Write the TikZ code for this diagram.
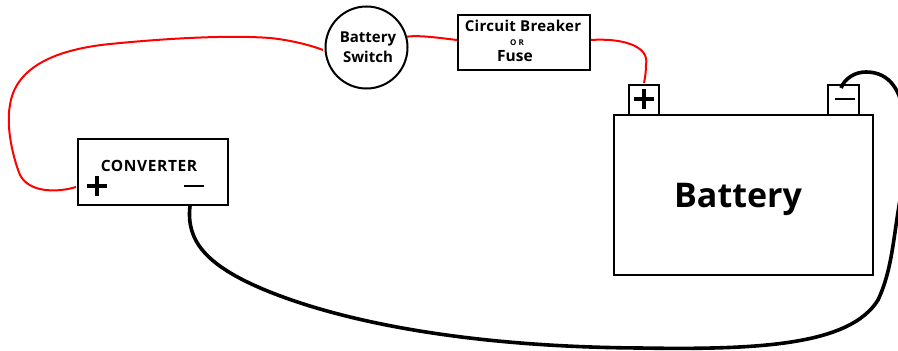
\documentclass[tikz,border=0pt]{standalone}
\usepackage{fontspec}
\setmainfont{Open Sans}
\newfontfamily\spacedfont[LetterSpace=4,BoldFont={Open Sans Bold}]{Open Sans}
\newfontfamily\tightfont[LetterSpace=2,BoldFont={Open Sans Bold}]{Open Sans}
\tikzset{
  boxnode/.style={draw=black, line width=2pt, inner sep=0pt, anchor=north west},
  redwire/.style={red, line width=2pt},
  blackwire/.style={black, line width=3.6pt},
  boldtext/.style={font=\bfseries, inner sep=0pt, align=center}
}
\begin{document}
\begin{tikzpicture}[x=1pt, y=-1pt]
    \clip (0,0) rectangle (898,351);

    \node[boxnode, minimum width=150pt, minimum height=66pt] (converter) at (77,138) {};
    \node[boxnode, minimum width=132pt, minimum height=55pt] (breaker) at (457,14) {};
    \node[boxnode, minimum width=259pt, minimum height=160pt] (battery) at (613,114) {};
    \node[boxnode, minimum width=30pt, minimum height=30pt] (plusterm) at (628,84) {};
    \node[boxnode, minimum width=31pt, minimum height=30pt] (minusterm) at (827,84) {};
    \node[draw=black, line width=2pt, circle, minimum size=82pt, inner sep=0pt] (switch) at (366.5,47.5) {};

    \node[boldtext, font=\bfseries\fontsize{15}{20}\selectfont] (switchtext) at (368,47) {Battery\\Switch};
    \node[boldtext, font=\tightfont\bfseries\fontsize{15}{15}\selectfont] (breakertext) at (523,26) {Circuit Breaker};
    \node[boldtext, font=\bfseries\fontsize{8}{8}\selectfont] (ortext) at (517,43) {O R};
    \node[boldtext, font=\bfseries\fontsize{15.5}{15.5}\selectfont] (fusetext) at (515,56) {Fuse};
    \node[boldtext, font=\spacedfont\bfseries\fontsize{15.5}{15.5}\selectfont] (convtext) at (149,166) {CONVERTER};
    \node[boldtext, font=\bfseries\fontsize{34}{34}\selectfont] (battext) at (738,199) {Battery};

    % plus and minus signs
    \coordinate (convplus) at (97,186);
    \coordinate (convminus) at (194,186);
    \coordinate (termplus) at (644,99);
    \coordinate (termminus) at (845,99);
    \draw[line width=3.6pt] ([xshift=-10pt]convplus) -- ([xshift=10pt]convplus);
    \draw[line width=3.6pt] ([yshift=-10pt]convplus) -- ([yshift=10pt]convplus);
    \draw[line width=1.8pt] ([xshift=-10pt]convminus) -- ([xshift=10pt]convminus);
    \draw[line width=3.6pt] ([xshift=-10pt]termplus) -- ([xshift=10pt]termplus);
    \draw[line width=3.6pt] ([yshift=-10pt]termplus) -- ([yshift=10pt]termplus);
    \draw[line width=1.8pt] ([xshift=-10pt]termminus) -- ([xshift=10pt]termminus);

    % red wires
    \coordinate (convred) at (76,187);
    \coordinate (switchleft) at (323,50);
    \coordinate (plustop) at (644,83);
    \draw[redwire] (convred) .. controls (60,192) and (30,194) .. (20,175)
        .. controls (12,155) and (6,125) .. (10,105)
        .. controls (15,70) and (50,50) .. (110,44)
        .. controls (170,38) and (230,35) .. (270,38)
        .. controls (290,40) and (310,45) .. (switchleft);
    \draw[redwire] (switch.15) .. controls (420,35) and (440,38) .. (breaker.west |- 0,40);
    \draw[redwire] (breaker.east |- 0,40) .. controls (620,38) and (650,45) .. (646,65)
        .. controls (646,72) and (645,78) .. (plustop);

    % black wire
    \coordinate (convout) at (190,206);
    \coordinate (minustop) at (841,88);
    \draw[blackwire] (convout) .. controls (186,240) and (205,265) .. (265,290)
        .. controls (350,325) and (480,347) .. (640,348)
        .. controls (760,350) and (850,345) .. (878,300)
        .. controls (892,270) and (893,240) .. (900,200)
        .. controls (908,150) and (915,72) .. (866,72)
        .. controls (855,72) and (845,78) .. (minustop);
\end{tikzpicture}
\end{document}
